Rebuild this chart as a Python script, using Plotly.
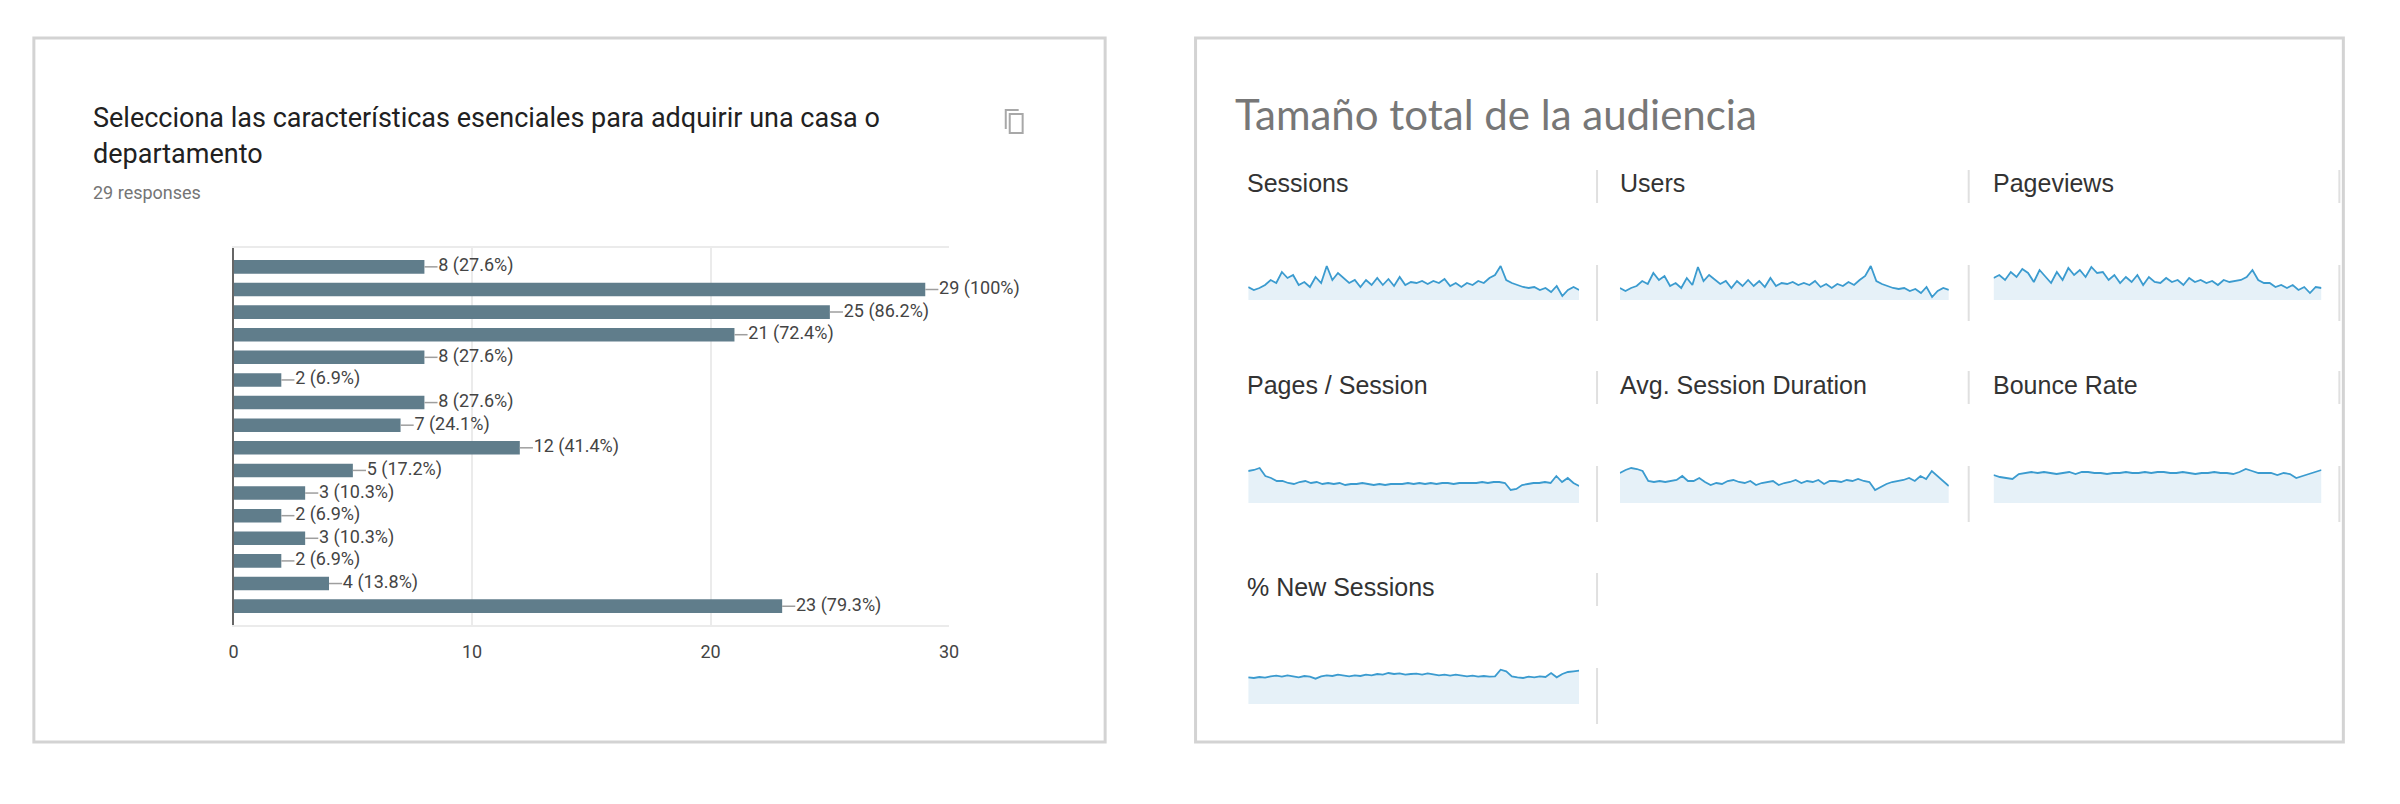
import plotly.graph_objects as go

W, H = 2400, 804

# ---- left card: google forms bar chart ----
titulo = ["Selecciona las características esenciales para adquirir una casa o", "departamento"]
total_respuestas = 29
opciones = ["Opción 1", "Opción 2", "Opción 3", "Opción 4", "Opción 5", "Opción 6", "Opción 7", "Opción 8",
            "Opción 9", "Opción 10", "Opción 11", "Opción 12", "Opción 13", "Opción 14", "Opción 15", "Opción 16"]
conteos = [8, 29, 25, 21, 8, 2, 8, 7, 12, 5, 3, 2, 3, 2, 4, 23]
x_ticks = [0, 10, 20, 30]

# ---- right card: analytics sparklines ----
titulo_audiencia = "Tamaño total de la audiencia"
metricas = ["Sessions", "Users", "Pageviews", "Pages / Session", "Avg. Session Duration", "Bounce Rate", "% New Sessions"]

sessions = [13, 10, 12, 15, 20, 17, 28, 22, 25, 15, 18, 13, 23, 17, 34, 20, 27, 22, 17, 20, 13, 20, 15, 22, 15, 21,
            14, 23, 15, 18, 17, 19, 16, 19, 17, 21, 14, 17, 13, 17, 15, 19, 17, 22, 25, 34, 20, 17, 15, 13, 12, 13, 10,
            12, 8, 14, 4, 10, 13, 10]
users = [12, 9, 12, 14, 19, 16, 27, 20, 24, 14, 17, 12, 22, 15, 33, 19, 25, 20, 16, 19, 12, 19, 14, 20, 14, 19, 13, 22,
         14, 17, 16, 18, 15, 17, 15, 19, 13, 16, 12, 16, 14, 18, 15, 20, 24, 34, 19, 16, 14, 12, 11, 12, 9, 11, 7, 13, 3,
         9, 12, 10]
pageviews = [22, 25, 20, 28, 23, 31, 27, 18, 30, 23, 17, 28, 20, 32, 25, 30, 23, 33, 27, 28, 20, 25, 17, 23, 18, 25, 15,
             23, 18, 17, 22, 18, 20, 15, 22, 18, 20, 17, 19, 15, 20, 18, 19, 20, 23, 30, 20, 17, 17, 13, 15, 12, 15, 10,
             13, 7, 13, 12]
pages_session = [32, 33, 35, 27, 25, 22, 22, 20, 19, 21, 22, 20, 21, 19, 20, 19, 20, 18, 19, 19, 20, 19, 18, 19, 18, 19,
                 19, 19, 20, 19, 20, 19, 20, 19, 20, 20, 19, 20, 20, 20, 20, 21, 20, 21, 21, 20, 13, 14, 18, 19, 20, 20,
                 21, 20, 27, 21, 25, 20, 17]
avg_duration = [30, 33, 35, 34, 32, 22, 21, 22, 21, 22, 23, 27, 22, 22, 25, 21, 18, 20, 19, 22, 23, 21, 20, 22, 18, 20,
                21, 22, 18, 20, 21, 23, 20, 22, 21, 23, 19, 22, 22, 21, 23, 22, 24, 22, 21, 13, 16, 19, 21, 22, 23, 25,
                22, 27, 24, 32, 27, 22, 17]
bounce_rate = [28, 26, 25, 24, 29, 30, 31, 30, 31, 30, 29, 30, 31, 29, 31, 31, 30, 30, 29, 30, 30, 31, 30, 30, 31, 30, 31,
               31, 30, 30, 31, 30, 29, 30, 30, 31, 30, 30, 29, 31, 34, 32, 30, 30, 30, 28, 30, 29, 25, 27, 29, 31, 33]
new_sessions = [26.7, 26, 27, 26.3, 27.7, 28.3, 27.3, 28.7, 27.7, 26.7, 28, 27.3, 25.3, 27.7, 28.7, 28, 29.3, 28.3, 27.7,
                28.7, 28, 29.3, 28.7, 30, 29.3, 31, 30, 30.7, 29.3, 30, 30.3, 29.3, 30.7, 29.7, 28.7, 29.3, 28.3, 29.3,
                28.7, 27.7, 28.3, 27.3, 28, 27.3, 27.7, 34.3, 32.7, 27.7, 26.7, 26, 27.3, 26.7, 27.7, 27, 31, 26.7, 30,
                32, 32.7, 33.3]
series = [sessions, users, pageviews, pages_session, avg_duration, bounce_rate, new_sessions]


def px(x):
    return x / W


def py(y):
    return 1 - y / H


def pct_label(c):
    p = f"{c / total_respuestas * 100:.1f}"
    if p.endswith(".0"):
        p = p[:-2]
    return f"{c} ({p}%)"


fig = go.Figure()

# bars
fig.add_trace(go.Bar(x=conteos, y=opciones, orientation="h", marker=dict(color="#607d8b", line=dict(width=0)),
                     xaxis="x", yaxis="y", hoverinfo="x"))

# little connector between bar end and label
cx, cy = [], []
for c, o in zip(conteos, opciones):
    cx += [c, c + 0.55, None]
    cy += [o, o, None]
fig.add_trace(go.Scatter(x=cx, y=cy, mode="lines", line=dict(color="#9e9e9e", width=1.5),
                         xaxis="x", yaxis="y", hoverinfo="skip", cliponaxis=False))

fig.add_trace(go.Scatter(x=[c + 0.58 for c in conteos], y=opciones, mode="text",
                         text=[pct_label(c) for c in conteos], textposition="middle right",
                         textfont=dict(family="Roboto", size=18, color="#444444"),
                         xaxis="x", yaxis="y", hoverinfo="skip", cliponaxis=False))

# sparklines
cols_x = [(1243, 1576), (1617, 1948), (1993, 2323)]
label_x = [1240, 1615, 1990]
rows_base = [292, 495, 696]
label_y = [175, 377, 579]
layout_axes = {}
annotations = []
for i, (name, vals) in enumerate(zip(metricas, series)):
    r, c = divmod(i, 3)
    n = i + 2
    fig.add_trace(go.Scatter(x=list(range(len(vals))), y=vals, mode="lines", fill="tozeroy",
                             fillcolor="#e6f1f8", line=dict(color="#3b9bcf", width=1.8),
                             xaxis=f"x{n}", yaxis=f"y{n}", hoverinfo="y"))
    x0, x1 = cols_x[c]
    base = rows_base[r]
    layout_axes[f"xaxis{n}"] = dict(domain=[px(x0), px(x1)], range=[0, len(vals) - 1], visible=False,
                                    anchor=f"y{n}")
    layout_axes[f"yaxis{n}"] = dict(domain=[py(base), py(base - 40)], range=[0, 40], visible=False,
                                    anchor=f"x{n}")
    annotations.append(dict(text=name, x=px(label_x[c]), y=py(label_y[r]), xref="paper", yref="paper",
                            xanchor="left", yanchor="middle", showarrow=False,
                            font=dict(family="Liberation Sans", size=25, color="#333333")))

# titles
annotations.append(dict(text=titulo[0], x=px(78), y=py(110), xref="paper", yref="paper", xanchor="left",
                        yanchor="middle", showarrow=False, font=dict(family="Roboto", size=27, color="#212121")))
annotations.append(dict(text=titulo[1], x=px(78), y=py(146), xref="paper", yref="paper", xanchor="left",
                        yanchor="middle", showarrow=False, font=dict(family="Roboto", size=27, color="#212121")))
annotations.append(dict(text=f"{total_respuestas} responses", x=px(78), y=py(185), xref="paper", yref="paper",
                        xanchor="left", yanchor="middle", showarrow=False,
                        font=dict(family="Roboto", size=18, color="#757575")))
annotations.append(dict(text=titulo_audiencia, x=px(1228), y=py(106), xref="paper", yref="paper", xanchor="left",
                        yanchor="middle", showarrow=False, font=dict(family="Lato", size=42, color="#777777")))

# card borders, dividers, copy icon
shapes = []
for x0, y0, x1, y1 in [(21, 30, 1099, 734), (1190, 30, 2345, 734)]:
    shapes.append(dict(type="rect", xref="paper", yref="paper", x0=px(x0), x1=px(x1), y0=py(y0), y1=py(y1),
                       line=dict(color="#d3d3d3", width=3), layer="below"))
for r, d in enumerate([0, 201, 403]):
    xs = [1594, 1968, 2341] if r < 2 else [1594]
    for xd in xs:
        for ya, yb in [(162, 195), (257, 313)]:
            shapes.append(dict(type="line", xref="paper", yref="paper", x0=px(xd), x1=px(xd),
                               y0=py(ya + d), y1=py(yb + d), line=dict(color="#e0e0e0", width=2)))
shapes.append(dict(type="path", xref="paper", yref="paper",
                   path=f"M {px(999)},{py(121)} L {px(999)},{py(102)} L {px(1012)},{py(102)}",
                   line=dict(color="#a8a8a8", width=2)))
shapes.append(dict(type="rect", xref="paper", yref="paper", x0=px(1003), x1=px(1016), y0=py(106), y1=py(125),
                   line=dict(color="#a8a8a8", width=2), fillcolor="white"))

fig.update_layout(
    width=W, height=H,
    margin=dict(l=0, r=0, t=0, b=0),
    paper_bgcolor="white", plot_bgcolor="white",
    showlegend=False, bargap=0.4,
    xaxis=dict(domain=[px(222), px(942)], range=[0, 30], tickvals=x_ticks, showgrid=True,
               gridcolor="#ebebeb", gridwidth=1.5, zeroline=False, showline=True, mirror=True,
               linecolor="#ebebeb", linewidth=1.5, ticks="", ticklabelstandoff=10, anchor="y",
               tickfont=dict(family="Roboto", size=18, color="#444444")),
    yaxis=dict(domain=[py(617), py(240)], autorange="reversed", showticklabels=False, showgrid=False,
               zeroline=False, showline=True, linecolor="#666666", linewidth=1.5, anchor="x"),
    annotations=annotations,
    shapes=shapes,
    **layout_axes,
)

fig.write_html("out.html")
